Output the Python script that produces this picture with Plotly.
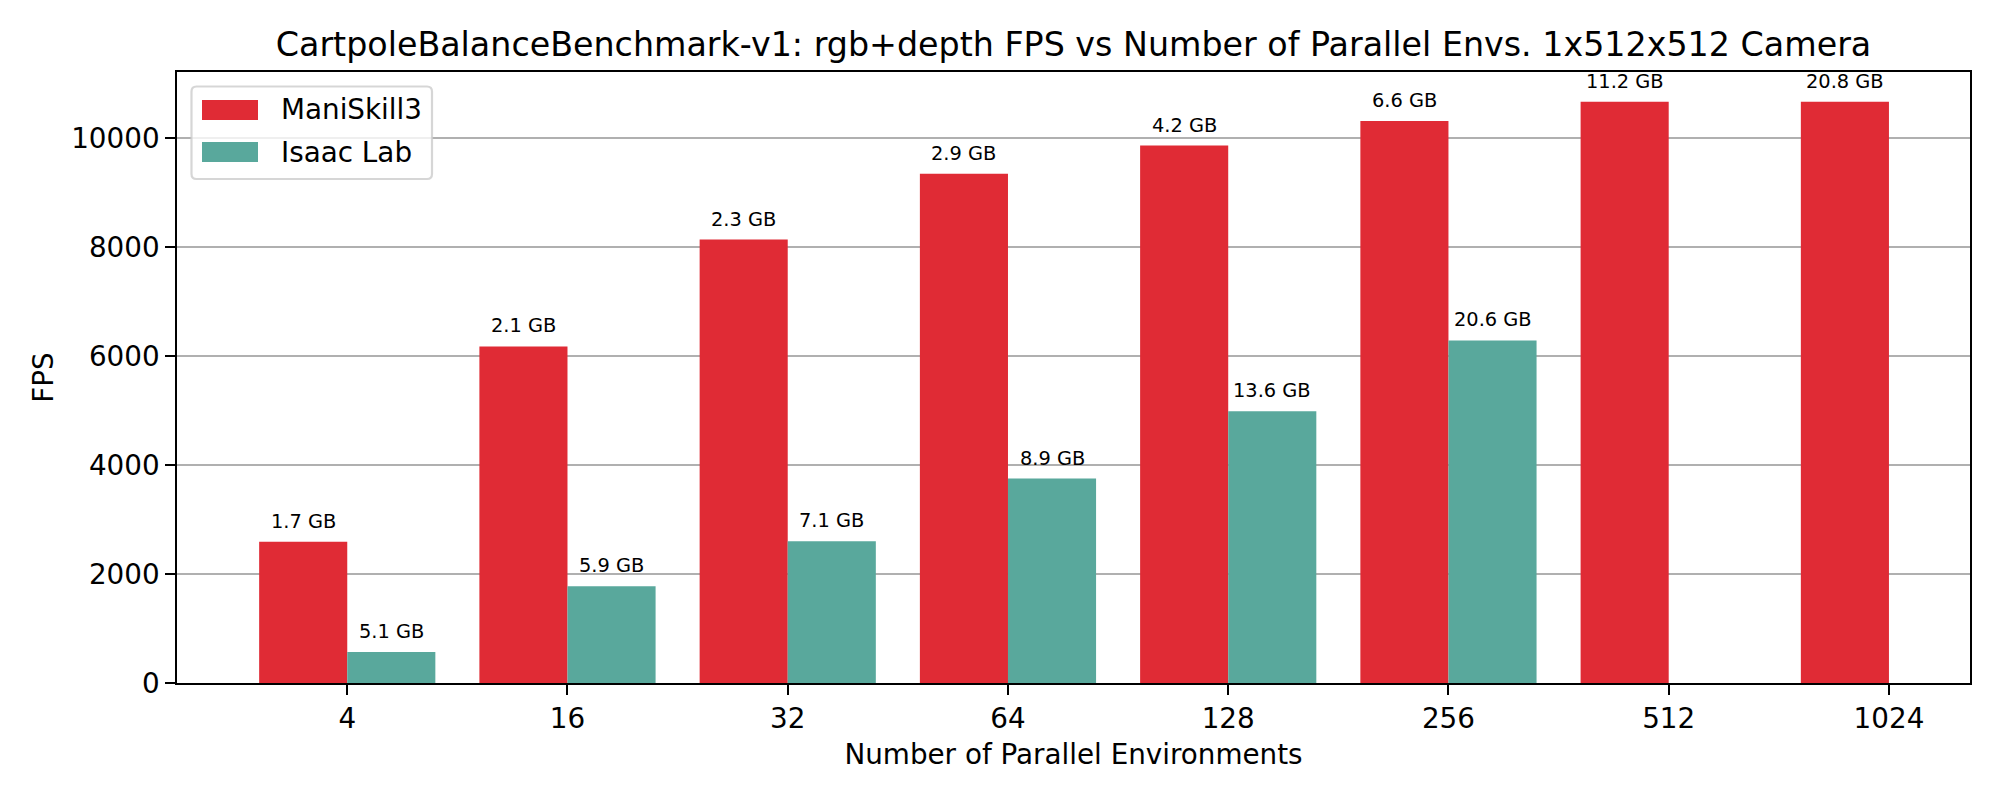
import plotly.graph_objects as go

# ---------------- data ----------------
envs = ["4", "16", "32", "64", "128", "256", "512", "1024"]
maniskill_fps = [2590, 6175, 8135, 9345, 9860, 10310, 10665, 10665]
isaac_fps = [570, 1775, 2600, 3750, 4985, 6285, None, None]
maniskill_mem = ["1.7 GB", "2.1 GB", "2.3 GB", "2.9 GB", "4.2 GB", "6.6 GB", "11.2 GB", "20.8 GB"]
isaac_mem = ["5.1 GB", "5.9 GB", "7.1 GB", "8.9 GB", "13.6 GB", "20.6 GB", None, None]
y_ticks = [0, 2000, 4000, 6000, 8000, 10000]
series_names = ["ManiSkill3", "Isaac Lab"]
colors = ["#e02b35", "#59a89c"]

title_text = "CartpoleBalanceBenchmark-v1: rgb+depth FPS vs Number of Parallel Envs. 1x512x512 Camera"
x_title = "Number of Parallel Environments"
y_title = "FPS"

# ---------------- layout geometry ----------------
W, H = 2000, 800
L, R, T, B = 177, 30, 72, 117
PW, PH = W - L - R, H - T - B
FONT = "DejaVu Sans"


def px(x):
    return (x - L) / PW


def py(y):
    return (H - B - y) / PH


fig = go.Figure()
fig.add_trace(go.Bar(x=envs, y=maniskill_fps, name=series_names[0],
                     marker=dict(color=colors[0], line=dict(width=0)), showlegend=False))
fig.add_trace(go.Bar(x=envs, y=isaac_fps, name=series_names[1],
                     marker=dict(color=colors[1], line=dict(width=0)), showlegend=False))

annotations = []
for i, (v, t) in enumerate(zip(maniskill_fps, maniskill_mem)):
    if v is not None and t is not None:
        annotations.append(dict(x=i - 0.2, y=v, xref="x", yref="y", text=t, showarrow=False,
                                yanchor="bottom", xanchor="center", yshift=8, borderpad=0,
                                font=dict(family=FONT, size=19.4, color="black")))
for i, (v, t) in enumerate(zip(isaac_fps, isaac_mem)):
    if v is not None and t is not None:
        annotations.append(dict(x=i + 0.2, y=v, xref="x", yref="y", text=t, showarrow=False,
                                yanchor="bottom", xanchor="center", yshift=8, borderpad=0,
                                font=dict(family=FONT, size=19.4, color="black")))

# custom matplotlib-style legend
shapes = []
lx0, ly0, lx1, ly1 = 191.5, 86.5, 432, 179
r = 5
path = (f"M {lx0 + r - L},{ly0 - T} L {lx1 - r - L},{ly0 - T} Q {lx1 - L},{ly0 - T} {lx1 - L},{ly0 + r - T} "
        f"L {lx1 - L},{ly1 - r - T} Q {lx1 - L},{ly1 - T} {lx1 - r - L},{ly1 - T} "
        f"L {lx0 + r - L},{ly1 - T} Q {lx0 - L},{ly1 - T} {lx0 - L},{ly1 - r - T} "
        f"L {lx0 - L},{ly0 + r - T} Q {lx0 - L},{ly0 - T} {lx0 + r - L},{ly0 - T} Z")


def pix_path(p):
    out = []
    for tok in p.split(" "):
        if "," in tok:
            a, b = tok.split(",")
            out.append(f"{float(a):.2f},{-float(b):.2f}")
        else:
            out.append(tok)
    return " ".join(out)


shapes.append(dict(type="path", xref="paper", yref="paper", xsizemode="pixel", ysizemode="pixel",
                   xanchor=0, yanchor=1, path=pix_path(path),
                   fillcolor="rgba(255,255,255,0.8)", line=dict(color="rgba(204,204,204,0.8)", width=2.2),
                   layer="above"))
patch_rows = [(100, 120), (142, 162)]
label_y = [109.5, 152]
for (y0, y1), c, name, ly in zip(patch_rows, colors, series_names, label_y):
    shapes.append(dict(type="rect", xref="paper", yref="paper", x0=px(202), x1=px(258),
                       y0=py(y1), y1=py(y0), fillcolor=c, line=dict(width=0), layer="above"))
    annotations.append(dict(x=px(280), y=py(ly), xref="paper", yref="paper", text=name, showarrow=False,
                            xanchor="left", yanchor="middle", borderpad=0,
                            font=dict(family=FONT, size=27.8, color="black")))

axis_common = dict(showline=True, linecolor="black", linewidth=2.2, mirror=True,
                   ticks="outside", ticklen=9.7, tickwidth=2.2, tickcolor="black",
                   tickfont=dict(family=FONT, size=27.8, color="black"), zeroline=False)

fig.update_layout(
    width=W, height=H,
    margin=dict(l=L, r=R, t=T, b=B, autoexpand=False),
    paper_bgcolor="white", plot_bgcolor="white",
    barmode="group", bargap=0.2, bargroupgap=0,
    font=dict(family=FONT, color="black"),
    title=dict(text=title_text, x=0.5, xref="paper", xanchor="center",
               y=1 - 44.5 / H, yref="container", yanchor="middle",
               font=dict(family=FONT, size=33.3, color="black")),
    xaxis=dict(type="category", range=[-0.773, 7.368], showgrid=False,
               title=dict(text=x_title, standoff=10, font=dict(family=FONT, size=27.8, color="black")),
               ticklabelstandoff=0, automargin=False, **axis_common),
    yaxis=dict(range=[0, 11210], tickvals=y_ticks, tickformat="d", showgrid=True,
               gridcolor="#b0b0b0", gridwidth=2.2,
               title=dict(text=y_title, standoff=9, font=dict(family=FONT, size=27.8, color="black")),
               ticklabelstandoff=0, automargin=False, **axis_common),
    annotations=annotations,
    shapes=shapes,
    showlegend=False,
)

fig.write_html("out.html")
